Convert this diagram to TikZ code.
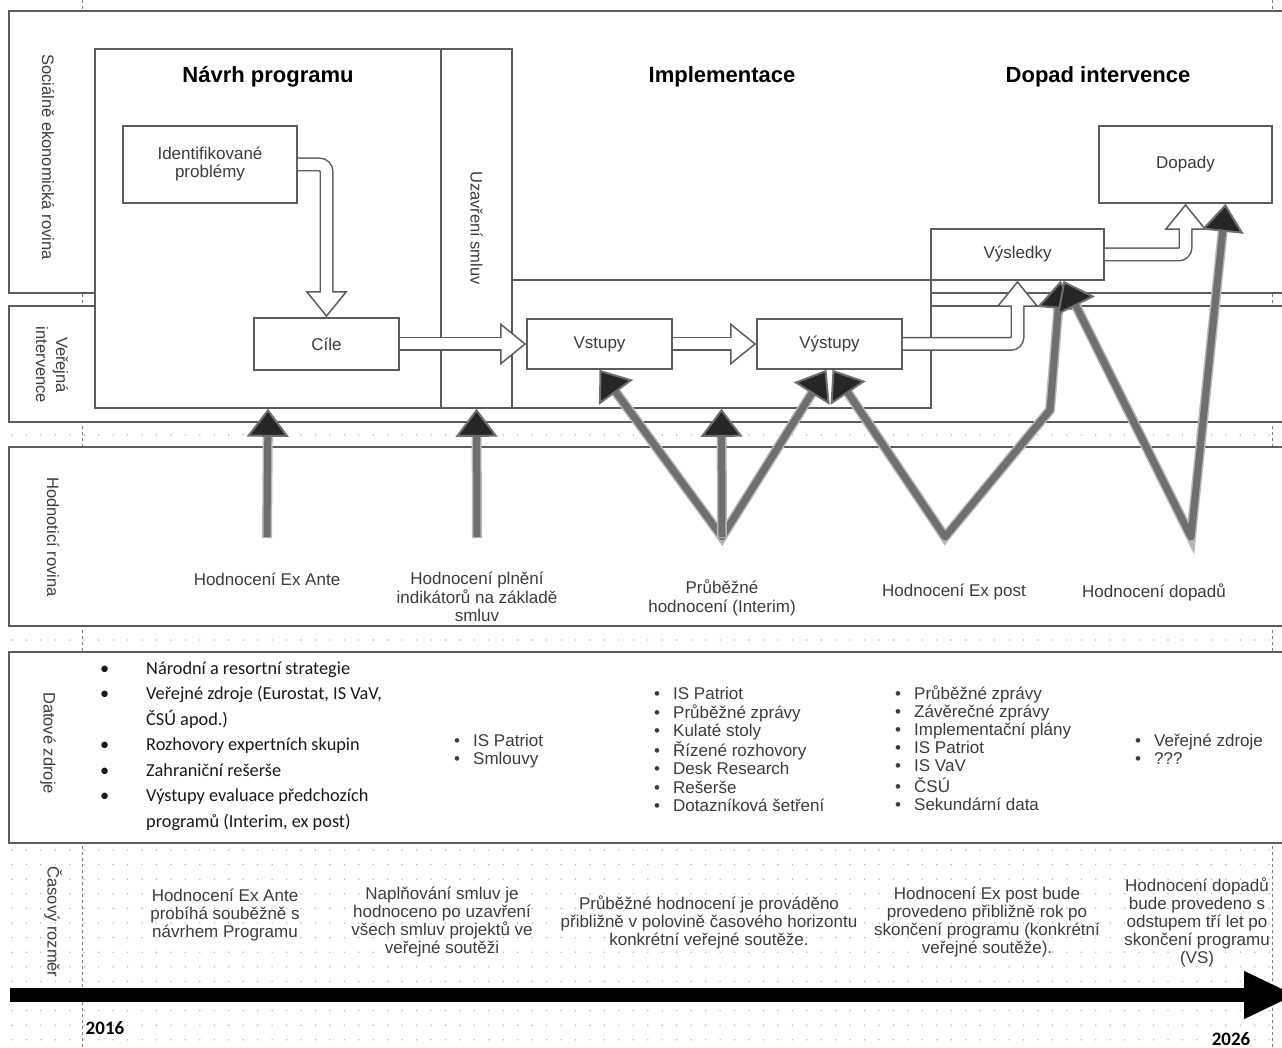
\documentclass[tikz,border=0pt]{standalone}
\usepackage{fontspec}
\setmainfont{Liberation Sans}
\newfontfamily\calfont{Carlito}
\usepackage{xcolor}
\usepackage{tikz}
\usetikzlibrary{arrows.meta}

\definecolor{boxline}{HTML}{5C5C5C}
\definecolor{txtgray}{HTML}{3C3C3C}
\definecolor{evalgray}{HTML}{6F6F6F}
\definecolor{halo}{HTML}{B8B8B8}
\definecolor{headfill}{HTML}{262626}
\definecolor{dotgray}{HTML}{B4B4B4}

\begin{document}
\begin{tikzpicture}[x=1pt, y=-1pt,
    region/.style={draw=boxline, line width=1.6pt, fill=white, inner sep=0pt},
    box/.style={region, text=txtgray, font=\fontsize{17}{18}\selectfont, align=center},
    title/.style={font=\fontsize{22}{24}\selectfont\bfseries},
    bandlabel/.style={rotate=-90, text=txtgray, font=\fontsize{16.5}{20}\selectfont, align=center},
    evaltext/.style={text=txtgray, font=\fontsize{17}{18.5}\selectfont, align=center},
    timetext/.style={text=txtgray, font=\fontsize{17}{18}\selectfont, align=center},
    srclist/.style={anchor=base west, inner sep=0pt, text=txtgray, font=\fontsize{17}{18.2}\selectfont},
    hollow/.style={draw=boxline, line width=14pt, rounded corners=7pt,
        -{Triangle[length=26pt, width=42pt, fill=white, line width=1.5pt]},
        postaction={draw=white, line width=11pt, shorten >=24pt, arrows=-}},
    evalarrow/.style={draw=evalgray, line width=7pt, line join=round,
        preaction={draw=halo, line width=10pt, arrows=-, shorten >=22pt, shorten <=#1}},
    evalarrow/.default=-1pt,
    >={Triangle[length=28pt, width=42pt, fill=headfill, line width=2pt]}
]
\useasboundingbox (0,0) rectangle (1282,1048);

% grid of the page behind
\foreach \y in {435,640,850,864.6,...,1047}
    \foreach \x in {12,26.45,...,1282}
        \fill[dotgray] (\x,\y) circle[radius=0.8pt];
\foreach \x in {82,1272}
    \draw[dotgray!70!black, line width=1pt, dash pattern=on 3pt off 3pt] (\x,0) -- (\x,1048);

% bands
\draw[region] (9,11) rectangle (1300,293);
\draw[region] (9,306) rectangle (1300,422);
\draw[region] (9,447) rectangle (1300,626);
\draw[region] (9,652) rectangle (1300,843);

\node[bandlabel] (lab-soc) at (48,157) {Sociálně ekonomická rovina};
\node[bandlabel] (lab-ver) at (52,365) {Veřejná\\intervence};
\node[bandlabel] (lab-hod) at (53,537) {Hodnoticí rovina};
\node[bandlabel] (lab-dat) at (48,743) {Datové zdroje};
\node[bandlabel] (lab-cas) at (53,922) {Časový rozměr};

% program parts
\node[region, minimum width=346pt, minimum height=359pt] (navrh) at (268,228.5) {};
\node[region, minimum width=71pt, minimum height=359pt] (uzav) at (476.5,228.5) {};
\node[region, minimum width=419pt, minimum height=128pt] (impl) at (721.5,344) {};
\node[bandlabel] (lab-uzav) at (476.5,228) {Uzavření smluv};

\node[title] (t-navrh) at (268,77) {Návrh programu};
\node[title] (t-impl) at (722,77) {Implementace};
\node[title] (t-dopad) at (1098,77) {Dopad intervence};

\node[box, minimum width=174pt, minimum height=77pt] (problemy) at (210,164.5) {Identifikované\\problémy};
\node[box, minimum width=145pt, minimum height=52pt] (cile) at (326.5,344) {Cíle};
\node[box, minimum width=145pt, minimum height=50pt] (vstupy) at (599.5,344) {Vstupy};
\node[box, minimum width=145pt, minimum height=50pt] (vystupy) at (829.5,344) {Výstupy};
\node[box, minimum width=173pt, minimum height=51pt] (vysledky) at (1017.5,254.5) {Výsledky};
\node[box, minimum width=173pt, minimum height=77pt] (dopady) at (1185.5,164.5) {Dopady};

\draw[hollow] (problemy.east) -| (cile.north);
\draw[hollow] (cile.east) -- (vstupy.west);
\draw[hollow] (vstupy.east) -- (vystupy.west);
\draw[hollow] (vystupy.east) -| (vysledky.south);
\draw[hollow] (vysledky.east) -| (dopady.south);

% evaluations
\node[evaltext] (h-exante) at (267,579) {Hodnocení Ex Ante};
\node[evaltext] (h-plneni) at (477,597) {Hodnocení plnění\\indikátorů na základě\\smluv};
\node[evaltext] (h-interim) at (722,598) {Průběžné\\hodnocení (Interim)};
\node[evaltext] (h-expost) at (954,592) {Hodnocení Ex post};
\node[evaltext] (h-dopadu) at (1154,592) {Hodnocení dopadů};

\coordinate (v-exante) at (267,537);
\coordinate (v-plneni) at (477,537);
\coordinate (v-interim) at (722,537);
\coordinate (v-expost) at (945,537);
\coordinate (v-dopadu) at (1191,537);
\coordinate (bend) at (1050,410);

\draw[evalarrow, ->] (v-exante) -- (navrh.south);
\draw[evalarrow, ->] (v-plneni) -- (uzav.south);
\draw[evalarrow=22pt, <->] (vstupy.south) -- (v-interim) -- ([xshift=-3pt]vystupy.south);
\draw[evalarrow, ->] (v-interim) -- (impl.south);
\draw[evalarrow=22pt, <->] ([xshift=3pt]vystupy.south) -- (v-expost) -- (bend) -- ([xshift=43pt]vysledky.south);
\draw[evalarrow=22pt, <->] ([xshift=46pt]vysledky.south) -- (v-dopadu) -- ([xshift=40pt]dopady.south);

% data sources
\node[srclist, text=black!90, font=\calfont\fontsize{18.3}{25.5}\selectfont] (src-navrh) at (100,674) {%
  \begin{tabular}[t]{@{}p{46pt}@{}l@{}}
  • & Národní a resortní strategie\\
  • & Veřejné zdroje (Eurostat, IS VaV,\\
    & ČSÚ apod.)\\
  • & Rozhovory expertních skupin\\
  • & Zahraniční rešerše\\
  • & Výstupy evaluace předchozích\\
    & programů (Interim, ex post)
  \end{tabular}};
\node[srclist] (src-smlouvy) at (454,746) {%
  \begin{tabular}[t]{@{}p{19pt}@{}l@{}}
  • & IS Patriot\\
  • & Smlouvy
  \end{tabular}};
\node[srclist] (src-interim) at (654,699) {%
  \begin{tabular}[t]{@{}p{19pt}@{}l@{}}
  • & IS Patriot\\
  • & Průběžné zprávy\\
  • & Kulaté stoly\\
  • & Řízené rozhovory\\
  • & Desk Research\\
  • & Rešerše\\
  • & Dotazníková šetření
  \end{tabular}};
\node[srclist] (src-expost) at (895,699) {%
  \begin{tabular}[t]{@{}p{19pt}@{}l@{}}
  • & Průběžné zprávy\\
  • & Závěrečné zprávy\\
  • & Implementační plány\\
  • & IS Patriot\\
  • & IS VaV\\
  • & ČSÚ\\
  • & Sekundární data
  \end{tabular}};
\node[srclist] (src-dopadu) at (1135,746) {%
  \begin{tabular}[t]{@{}p{19pt}@{}l@{}}
  • & Veřejné zdroje\\
  • & ???
  \end{tabular}};

% time
\node[timetext] (c-exante) at (225,915) {Hodnocení Ex Ante\\probíhá souběžně s\\návrhem Programu};
\node[timetext] (c-plneni) at (442,922) {Naplňování smluv je\\hodnoceno po uzavření\\všech smluv projektů ve\\veřejné soutěži};
\node[timetext] (c-interim) at (709,922) {Průběžné hodnocení je prováděno\\přibližně v polovině časového horizontu\\konkrétní veřejné soutěže.};
\node[timetext] (c-expost) at (987,922) {Hodnocení Ex post bude\\provedeno přibližně rok po\\skončení programu (konkrétní\\veřejné soutěže).};
\node[timetext] (c-dopadu) at (1197,922) {Hodnocení dopadů\\bude provedeno s\\odstupem tří let po\\skončení programu\\(VS)};

\coordinate (t0) at (10,995);
\coordinate (t1) at (1296,995);
\draw[line width=14pt, -{Triangle[length=52pt, width=44pt]}] (t0) -- (t1);
\node[font=\calfont\fontsize{19}{20}\selectfont\bfseries] (y-start) at (105,1028) {2016};
\node[font=\calfont\fontsize{19}{20}\selectfont\bfseries] (y-end) at (1231,1039) {2026};
\end{tikzpicture}
\end{document}
